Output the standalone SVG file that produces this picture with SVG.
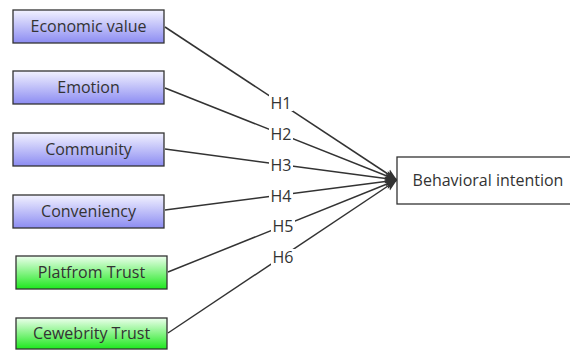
<svg xmlns="http://www.w3.org/2000/svg" width="570" height="350" viewBox="0 0 570 350">
<defs>
<linearGradient id="gb" x1="0" y1="0" x2="0" y2="1">
<stop offset="0" stop-color="#f2f2ff"/>
<stop offset="1" stop-color="#8c8cf2"/>
</linearGradient>
<linearGradient id="gg" x1="0" y1="0" x2="0" y2="1">
<stop offset="0" stop-color="#ecffec"/>
<stop offset="1" stop-color="#1ee81e"/>
</linearGradient>
<marker id="arr" viewBox="0 0 12 12" refX="12" refY="6" markerWidth="12" markerHeight="12" markerUnits="userSpaceOnUse" orient="auto">
<path d="M0,1 L12,6 L0,11 L3,6 Z" fill="#333"/>
</marker>
</defs>
<style>
.b{fill:url(#gb);stroke:#333;stroke-width:1.3}
.g{fill:url(#gg);stroke:#333;stroke-width:1.3}
.w{fill:#fff;stroke:#333;stroke-width:1.3}
.t{font-family:"Open Sans","Noto Sans","DejaVu Sans",sans-serif;font-size:16px;fill:#333;text-anchor:middle;dominant-baseline:central}
.c{stroke:#333;stroke-width:1.5;fill:none}
.lb{fill:#fff}
</style>
<rect width="570" height="350" fill="#fff"/>
<g id="connectors">
<line class="c" x1="165" y1="27" x2="397" y2="180" marker-end="url(#arr)"/>
<line class="c" x1="165" y1="88" x2="397" y2="180" marker-end="url(#arr)"/>
<line class="c" x1="165" y1="149" x2="397" y2="180" marker-end="url(#arr)"/>
<line class="c" x1="165" y1="210" x2="397" y2="180" marker-end="url(#arr)"/>
<line class="c" x1="168" y1="272" x2="397" y2="180" marker-end="url(#arr)"/>
<line class="c" x1="168" y1="333" x2="397" y2="180" marker-end="url(#arr)"/>
<rect class="lb" x="269" y="94" width="24" height="17"/>
<rect class="lb" x="269" y="126" width="24" height="17"/>
<rect class="lb" x="269" y="157" width="24" height="17"/>
<rect class="lb" x="269" y="188" width="24" height="17"/>
<rect class="lb" x="271" y="218" width="24" height="17"/>
<rect class="lb" x="271" y="249" width="24" height="17"/>
<text class="t" x="281" y="103">H1</text>
<text class="t" x="281" y="134">H2</text>
<text class="t" x="281" y="165">H3</text>
<text class="t" x="281" y="196">H4</text>
<text class="t" x="283" y="226">H5</text>
<text class="t" x="283" y="257">H6</text>
</g>
<g id="economic-value">
<rect class="b" x="13" y="10" width="151" height="33"/>
<text class="t" x="88.5" y="26">Economic value</text>
</g>
<g id="emotion">
<rect class="b" x="13" y="71" width="151" height="33"/>
<text class="t" x="88.5" y="87">Emotion</text>
</g>
<g id="community">
<rect class="b" x="13" y="133" width="151" height="33"/>
<text class="t" x="88.5" y="149">Community</text>
</g>
<g id="conveniency">
<rect class="b" x="13" y="195" width="151" height="33"/>
<text class="t" x="88.5" y="211">Conveniency</text>
</g>
<g id="platfrom-trust">
<rect class="g" x="16" y="256" width="151" height="33"/>
<text class="t" x="91.5" y="272">Platfrom Trust</text>
</g>
<g id="cewebrity-trust">
<rect class="g" x="16" y="318" width="151" height="31"/>
<text class="t" x="91.5" y="333">Cewebrity Trust</text>
</g>
<g id="behavioral-intention">
<rect class="w" x="397" y="157" width="176" height="47"/>
<text class="t" x="488" y="180">Behavioral intention</text>
</g>
</svg>
